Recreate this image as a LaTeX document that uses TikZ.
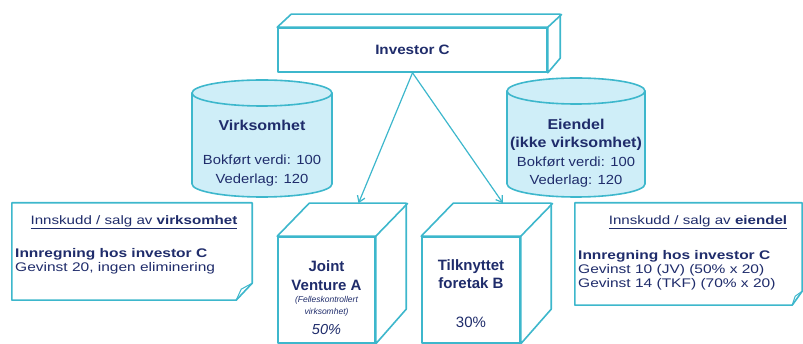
\documentclass[tikz,border=0pt]{standalone}
\usepackage{fontspec}
\setmainfont{Liberation Sans}
\newfontfamily\semiwide[FakeStretch=1.12]{Liberation Sans}
\newfontfamily\wide[FakeStretch=1.24]{Liberation Sans}
\usetikzlibrary{calc,arrows.meta}
\definecolor{edgecol}{HTML}{3DB7CC}
\definecolor{drumfill}{HTML}{CFEEF8}
\definecolor{navy}{HTML}{1F2C6B}
\begin{document}
\begin{tikzpicture}[x=1pt,y=-1pt,
  line/.style={draw=edgecol,line width=1.6pt,line join=round},
  face/.style={line,fill=white,inner sep=0pt},
  txt/.style={text=navy,align=center,inner sep=0pt},
  note/.style={text=navy,inner sep=0pt,font=\wide\fontsize{12.5}{14}\selectfont},
  link/.style={draw=edgecol,line width=1.2pt,-{Straight Barb[length=6pt,width=8pt]}}]
\useasboundingbox (0,0) rectangle (803,344);

% investor
\node[face,minimum width=269,minimum height=44] (invC) at (412.5,50) {};
\draw[line,fill=white] (invC.north west) -- ++(14,-13) -- ++(269,0) -- ++(0,44) -- (invC.south east) -- (invC.north east) -- cycle;
\draw[line] (invC.north east) -- ++(14,-13);
\node[txt,font=\semiwide\fontsize{13.6}{16}\selectfont\bfseries] (invClab) at (invC) {Investor C};

% drums
\draw[line,fill=drumfill] (192,93) -- (192,184) arc[start angle=180,end angle=0,x radius=70,y radius=13] -- (332,93) -- cycle;
\draw[line,fill=drumfill] (262,93) ellipse[x radius=70,y radius=13];
\node[txt,font=\semiwide\fontsize{13.2}{19}\selectfont] (virk) at (262,153) {{\fontsize{14.3}{19}\selectfont\bfseries Virksomhet}\\[15pt]Bokført verdi: 100\\Vederlag: 120};

\draw[line,fill=drumfill] (507,91) -- (507,184) arc[start angle=180,end angle=0,x radius=69,y radius=13] -- (645,91) -- cycle;
\draw[line,fill=drumfill] (576,91) ellipse[x radius=69,y radius=13];
\node[txt,font=\semiwide\fontsize{13.2}{18.5}\selectfont] (eien) at (576,153) {{\fontsize{14.3}{18.5}\selectfont\bfseries Eiendel}\\{\fontsize{14.3}{18.5}\selectfont\bfseries (ikke virksomhet)}\\Bokført verdi: 100\\Vederlag: 120};

% cubes
\node[face,minimum width=97,minimum height=106] (jv) at (326.5,290) {};
\draw[line,fill=white] (jv.north west) -- ++(32,-33) -- ++(97,0) -- ++(0,106) -- (jv.south east) -- (jv.north east) -- cycle;
\draw[line] (jv.north east) -- ++(32,-33);
\node[txt,font=\fontsize{15}{19}\selectfont\bfseries] (jvname) at (326.5,275.5) {Joint\\Venture A};
\node[txt,font=\fontsize{8.5}{12}\selectfont\itshape] (jvsub) at (326.5,306.5) {(Felleskontrollert\\virksomhet)};
\node[txt,font=\fontsize{14.5}{16}\selectfont\itshape] (jvpct) at (326.5,330) {50\%};

\node[face,minimum width=98,minimum height=106] (tf) at (471,290) {};
\draw[line,fill=white] (tf.north west) -- ++(32,-33) -- ++(98,0) -- ++(0,106) -- (tf.south east) -- (tf.north east) -- cycle;
\draw[line] (tf.north east) -- ++(32,-33);
\node[txt,font=\fontsize{15}{18}\selectfont\bfseries] (tfname) at (471,274) {Tilknyttet\\foretak B};
\node[txt,font=\fontsize{15}{16}\selectfont] (tfpct) at (471,322) {30\%};

% notes
\node[minimum width=240,minimum height=97,inner sep=0pt] (lnote) at (132,251.5) {};
\draw[line,fill=white] (lnote.north west) -- (lnote.north east) -- ($(lnote.south east)+(0,-17)$) -- ($(lnote.south east)+(-16,0)$) -- (lnote.south west) -- cycle;
\draw[line,line width=1pt] ($(lnote.south east)+(-16,0)$) -- ($(lnote.south east)+(-11,-11)$) -- ($(lnote.south east)+(0,-17)$);
\node[note,font=\wide\fontsize{12.2}{14}\selectfont] (ltitle) at (134,222) {\underline{Innskudd / salg av \textbf{virksomhet}}};
\node[note,anchor=west,align=left] (lbody) at (15,261.5) {\textbf{Innregning hos investor C}\\Gevinst 20, ingen eliminering};

\node[minimum width=227,minimum height=102,inner sep=0pt] (rnote) at (688.5,254) {};
\draw[line,fill=white] (rnote.north west) -- (rnote.north east) -- ($(rnote.south east)+(0,-14)$) -- ($(rnote.south east)+(-10,0)$) -- (rnote.south west) -- cycle;
\draw[line,line width=1pt] ($(rnote.south east)+(-10,0)$) -- ($(rnote.south east)+(-7,-9)$) -- ($(rnote.south east)+(0,-14)$);
\node[note,font=\wide\fontsize{12.2}{14}\selectfont] (rtitle) at (698,222) {\underline{Innskudd / salg av \textbf{eiendel}}};
\node[note,anchor=west,align=left] (rbody) at (578,270.5) {\textbf{Innregning hos investor C}\\Gevinst 10 (JV) (50\% x 20)\\Gevinst 14 (TKF) (70\% x 20)};

% links
\draw[link] (invC.south) -- ($(jv.north)+(32,-33)$);
\draw[link] (invC.south) -- ($(tf.north)+(32,-33)$);
\end{tikzpicture}
\end{document}
